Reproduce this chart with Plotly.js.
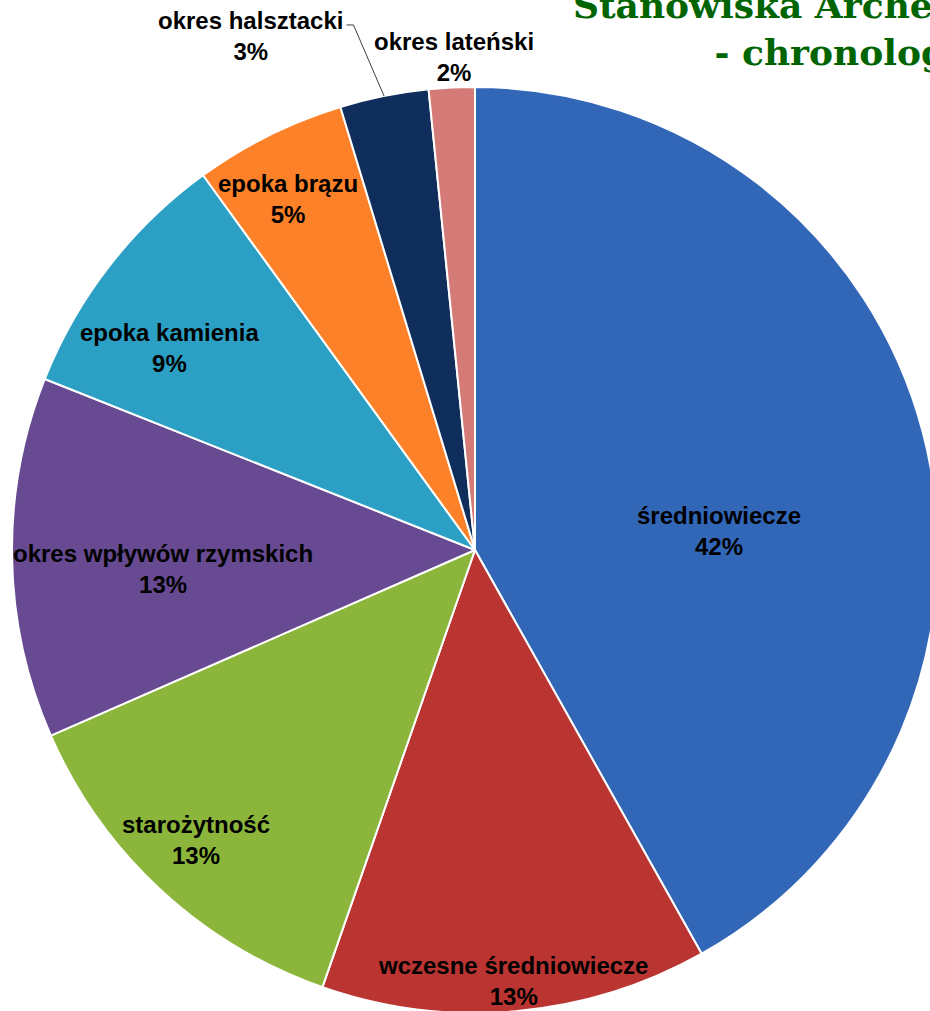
<!DOCTYPE html>
<html>
<head>
<meta charset="utf-8">
<script src="https://cdn.plot.ly/plotly-3.0.1.min.js"></script>
<style>
html,body{margin:0;padding:0;background:#fff;overflow:hidden;}
#wrap{position:relative;width:930px;height:1011px;overflow:hidden;}
#chart{position:absolute;left:0;top:-10px;width:950px;height:1040px;}
</style>
</head>
<body>
<div id="wrap"><div id="chart"></div></div>
<script>
// ---- data ----
const categories = ["średniowiecze","wczesne średniowiecze","starożytność","okres wpływów rzymskich","epoka kamienia","epoka brązu","okres halsztacki","okres lateński"];
const values = [419, 135, 131, 126, 90, 53, 31, 16];
const titleText = "Stanowiska Archeologiczne<br>- chronologia";

// ---- styles / label placement (fraction of radius, angle shift in degrees) ----
const colors = ["#3266B7","#BA3431","#8BB63B","#674A91","#2CA0C4","#FD8128","#0F2E5C","#D47B78"];
const labelRadius = [0.528, 0.935, 0.869, 0.675, 0.79, 0.859, 1.212, 1.066];
const labelAngleShift = [10.1, 0, 1.1, -2.5, -4.4, -1.65, -12.3, 0.45];
const leaderFor = [false, false, false, false, false, false, true, false];

const total = values.reduce((a, b) => a + b, 0);
const annotations = [];
const shapes = [];
let cum = 0;
// pie occupies the full square plot area: centre (0.5,0.5), radius 0.5 in paper units
function polar(f, deg) {
  const a = deg * Math.PI / 180;
  return [0.5 + 0.5 * f * Math.sin(a), 0.5 + 0.5 * f * Math.cos(a)];
}
values.forEach((v, i) => {
  const frac = v / total;
  const midDeg = (cum + frac / 2) * 360;
  cum += frac;
  const pct = Math.round(frac * 100) + "%";
  const p = polar(labelRadius[i], midDeg + labelAngleShift[i]);
  annotations.push({
    xref: "paper", yref: "paper", x: p[0], y: p[1],
    xanchor: "center", yanchor: "middle", align: "center",
    text: categories[i] + "<br>" + pct, showarrow: false,
    font: {family: "Liberation Sans, Arial, sans-serif", size: 24, color: "#000000", weight: "bold"}
  });
  if (leaderFor[i]) {
    const a = polar(1.0, midDeg);
    const b = polar(1.164, midDeg - 1.7);
    const c = [b[0] - 0.0076, b[1]];
    shapes.push({
      type: "path", xref: "paper", yref: "paper",
      path: `M ${a[0]} ${a[1]} L ${b[0]} ${b[1]} L ${c[0]} ${c[1]}`,
      line: {color: "#404040", width: 1}
    });
  }
});

const trace = {
  type: "pie",
  labels: categories,
  values: values,
  sort: false,
  direction: "clockwise",
  rotation: 0,
  marker: {colors: colors, line: {color: "#ffffff", width: 2}},
  textinfo: "none",
  hoverinfo: "label+percent",
  showlegend: false
};

const layout = {
  width: 950,
  height: 1040,
  margin: {l: 12, r: 12, t: 97, b: 17, pad: 0},
  paper_bgcolor: "#ffffff",
  title: {
    text: titleText,
    x: 0.8935, xanchor: "center", xref: "container",
    y: 0.9728, yanchor: "top", yref: "container",
    pad: {t: 0, b: 0},
    font: {family: "DejaVu Serif, serif", size: 36, color: "#006400", weight: "bold"}
  },
  annotations: annotations,
  shapes: shapes,
  showlegend: false
};

Plotly.newPlot("chart", [trace], layout, {staticPlot: true});
</script>
</body>
</html>
